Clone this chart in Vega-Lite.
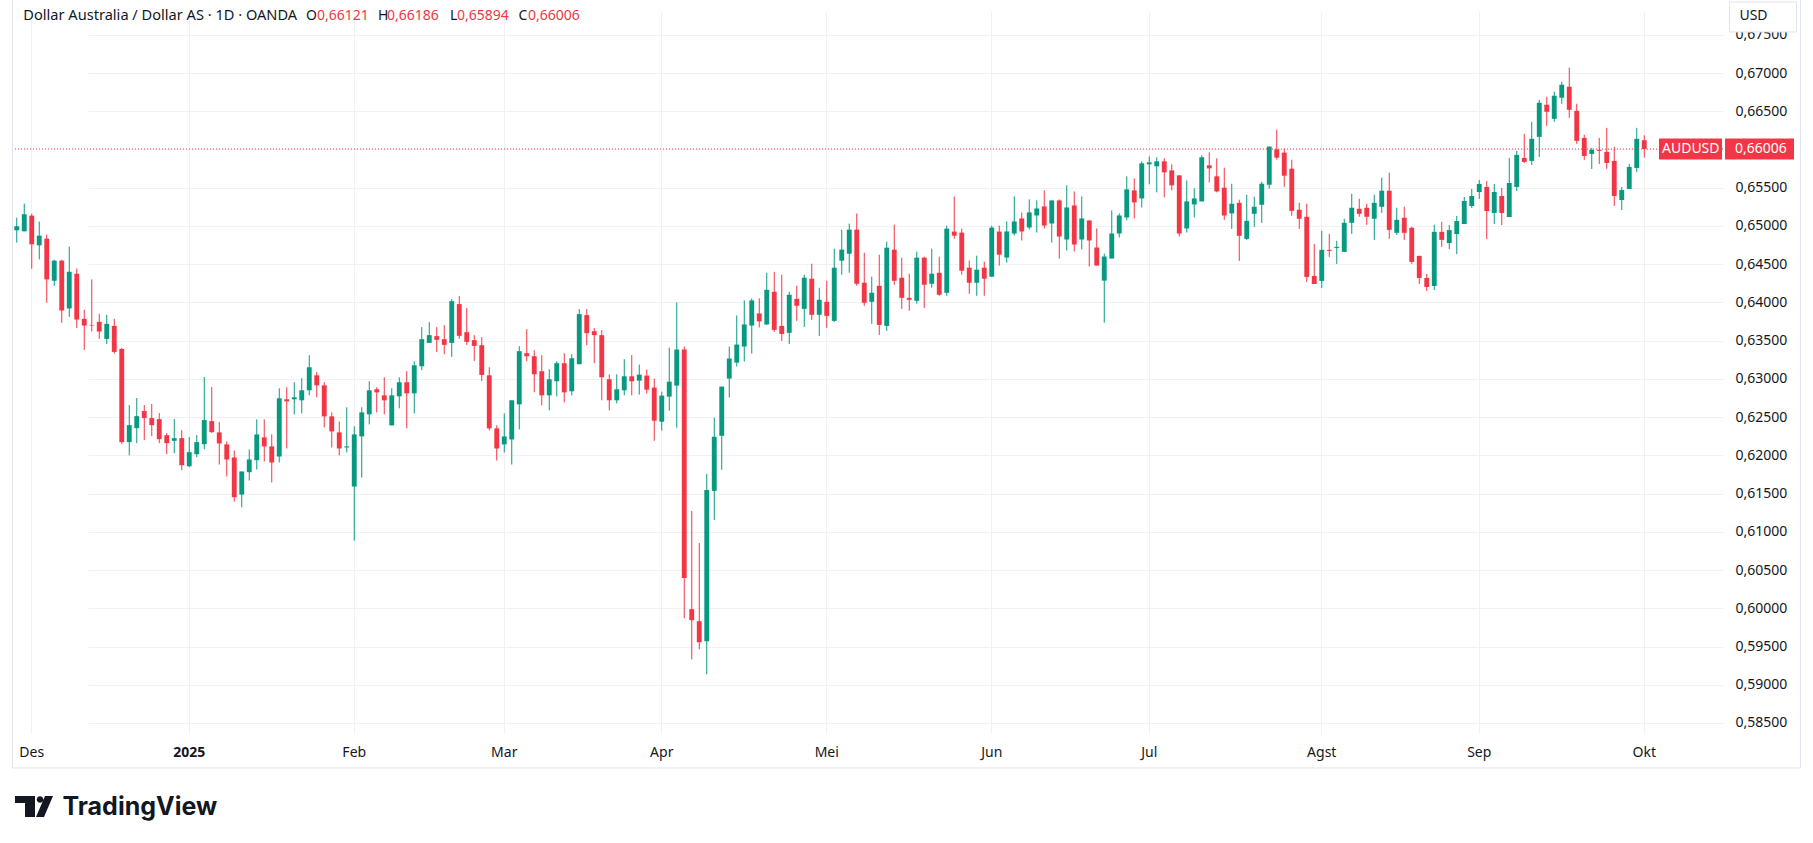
{
  "$schema": "https://vega.github.io/schema/vega-lite/v6.json",
  "width": 1710,
  "height": 721,
  "autosize": "none",
  "padding": {"left": 13, "top": 12, "right": 90, "bottom": 110},
  "background": "white",
  "config": {
    "locale": {"number": {"decimal": ",", "thousands": ".", "grouping": [3], "currency": ["", ""]}},
    "view": {"stroke": null},
    "font": "Noto Sans"
  },
  "datasets": {
    "last": [{"d": "2025-10-01", "o": 0.66121, "h": 0.66186, "l": 0.65894, "c": 0.66006, "sym": "AUDUSD"}],
    "ohlc": [
      {"d":"2024-11-28","o":0.64943,"h":0.65109,"l":0.64782,"c":0.64996},
      {"d":"2024-11-29","o":0.6493,"h":0.65293,"l":0.6493,"c":0.65153},
      {"d":"2024-12-02","o":0.65135,"h":0.65162,"l":0.64441,"c":0.6476},
      {"d":"2024-12-03","o":0.64747,"h":0.65057,"l":0.64563,"c":0.64873},
      {"d":"2024-12-04","o":0.64834,"h":0.64886,"l":0.63995,"c":0.64301},
      {"d":"2024-12-05","o":0.64283,"h":0.64559,"l":0.64218,"c":0.64546},
      {"d":"2024-12-06","o":0.64546,"h":0.64559,"l":0.63733,"c":0.63894},
      {"d":"2024-12-09","o":0.63921,"h":0.64729,"l":0.63811,"c":0.64401},
      {"d":"2024-12-10","o":0.64375,"h":0.64441,"l":0.63667,"c":0.63776},
      {"d":"2024-12-11","o":0.63785,"h":0.63903,"l":0.63379,"c":0.63698},
      {"d":"2024-12-12","o":0.63706,"h":0.64301,"l":0.63619,"c":0.63698},
      {"d":"2024-12-13","o":0.63746,"h":0.63851,"l":0.63523,"c":0.63619},
      {"d":"2024-12-16","o":0.63523,"h":0.63838,"l":0.63457,"c":0.6372},
      {"d":"2024-12-17","o":0.63693,"h":0.63785,"l":0.63331,"c":0.63353},
      {"d":"2024-12-18","o":0.63392,"h":0.63405,"l":0.6215,"c":0.62173},
      {"d":"2024-12-19","o":0.62173,"h":0.62658,"l":0.62,"c":0.62395},
      {"d":"2024-12-20","o":0.62356,"h":0.6275,"l":0.6216,"c":0.62513},
      {"d":"2024-12-23","o":0.62579,"h":0.62658,"l":0.62199,"c":0.62487},
      {"d":"2024-12-24","o":0.62487,"h":0.62671,"l":0.62251,"c":0.62395},
      {"d":"2024-12-26","o":0.62474,"h":0.62553,"l":0.6216,"c":0.62212},
      {"d":"2024-12-27","o":0.62264,"h":0.62291,"l":0.62015,"c":0.6216},
      {"d":"2024-12-30","o":0.6219,"h":0.62474,"l":0.62028,"c":0.62225},
      {"d":"2024-12-31","o":0.62225,"h":0.6233,"l":0.61806,"c":0.61871},
      {"d":"2025-01-02","o":0.61858,"h":0.62238,"l":0.61845,"c":0.62042},
      {"d":"2025-01-03","o":0.62015,"h":0.62264,"l":0.61976,"c":0.62173},
      {"d":"2025-01-06","o":0.62146,"h":0.63025,"l":0.62081,"c":0.62461},
      {"d":"2025-01-07","o":0.62448,"h":0.62894,"l":0.62291,"c":0.62304},
      {"d":"2025-01-08","o":0.623,"h":0.62436,"l":0.6188,"c":0.62156},
      {"d":"2025-01-09","o":0.62143,"h":0.62182,"l":0.61723,"c":0.61946},
      {"d":"2025-01-10","o":0.61972,"h":0.62064,"l":0.61395,"c":0.61452},
      {"d":"2025-01-13","o":0.61487,"h":0.61789,"l":0.61321,"c":0.61789},
      {"d":"2025-01-14","o":0.6178,"h":0.62077,"l":0.61671,"c":0.61946},
      {"d":"2025-01-15","o":0.61937,"h":0.6247,"l":0.61815,"c":0.62274},
      {"d":"2025-01-16","o":0.62235,"h":0.6247,"l":0.6192,"c":0.62117},
      {"d":"2025-01-17","o":0.62117,"h":0.62274,"l":0.61645,"c":0.61907},
      {"d":"2025-01-20","o":0.61985,"h":0.62877,"l":0.61907,"c":0.62746},
      {"d":"2025-01-21","o":0.62733,"h":0.6289,"l":0.6209,"c":0.62706},
      {"d":"2025-01-22","o":0.62733,"h":0.62956,"l":0.62536,"c":0.62759},
      {"d":"2025-01-23","o":0.6272,"h":0.63008,"l":0.62549,"c":0.62851},
      {"d":"2025-01-24","o":0.62851,"h":0.6331,"l":0.62785,"c":0.63152},
      {"d":"2025-01-27","o":0.63047,"h":0.63091,"l":0.62759,"c":0.62916},
      {"d":"2025-01-28","o":0.62916,"h":0.62956,"l":0.62366,"c":0.6251},
      {"d":"2025-01-29","o":0.6251,"h":0.62562,"l":0.62103,"c":0.62313},
      {"d":"2025-01-30","o":0.623,"h":0.62444,"l":0.61999,"c":0.6209},
      {"d":"2025-01-31","o":0.62103,"h":0.62628,"l":0.62038,"c":0.62117},
      {"d":"2025-02-03","o":0.61592,"h":0.62379,"l":0.60884,"c":0.62274},
      {"d":"2025-02-04","o":0.62248,"h":0.62628,"l":0.6171,"c":0.62562},
      {"d":"2025-02-05","o":0.62536,"h":0.62969,"l":0.62405,"c":0.62851},
      {"d":"2025-02-06","o":0.62864,"h":0.6289,"l":0.62562,"c":0.62824},
      {"d":"2025-02-07","o":0.62785,"h":0.63021,"l":0.62536,"c":0.6272},
      {"d":"2025-02-10","o":0.62392,"h":0.62877,"l":0.62392,"c":0.62785},
      {"d":"2025-02-11","o":0.62772,"h":0.63021,"l":0.62615,"c":0.62956},
      {"d":"2025-02-12","o":0.62956,"h":0.631,"l":0.62353,"c":0.62811},
      {"d":"2025-02-13","o":0.62811,"h":0.63231,"l":0.62549,"c":0.63178},
      {"d":"2025-02-14","o":0.63165,"h":0.63677,"l":0.63113,"c":0.63519},
      {"d":"2025-02-17","o":0.63471,"h":0.63742,"l":0.63471,"c":0.63572},
      {"d":"2025-02-18","o":0.63559,"h":0.63677,"l":0.63353,"c":0.63511},
      {"d":"2025-02-19","o":0.63519,"h":0.63703,"l":0.63323,"c":0.63445},
      {"d":"2025-02-20","o":0.63471,"h":0.64044,"l":0.63288,"c":0.64017},
      {"d":"2025-02-21","o":0.63978,"h":0.64083,"l":0.63524,"c":0.63563},
      {"d":"2025-02-24","o":0.63611,"h":0.63926,"l":0.63445,"c":0.63484},
      {"d":"2025-02-25","o":0.63506,"h":0.63572,"l":0.63235,"c":0.63432},
      {"d":"2025-02-26","o":0.63441,"h":0.63546,"l":0.62973,"c":0.63052},
      {"d":"2025-02-27","o":0.63047,"h":0.63152,"l":0.62326,"c":0.62353},
      {"d":"2025-02-28","o":0.62353,"h":0.62392,"l":0.61933,"c":0.6209},
      {"d":"2025-03-03","o":0.62143,"h":0.62549,"l":0.62038,"c":0.62248},
      {"d":"2025-03-04","o":0.62208,"h":0.6272,"l":0.6188,"c":0.6272},
      {"d":"2025-03-05","o":0.62667,"h":0.63428,"l":0.62339,"c":0.63362},
      {"d":"2025-03-06","o":0.63336,"h":0.6365,"l":0.63231,"c":0.63296},
      {"d":"2025-03-07","o":0.63296,"h":0.63375,"l":0.62824,"c":0.6306},
      {"d":"2025-03-10","o":0.631,"h":0.6331,"l":0.62654,"c":0.62785},
      {"d":"2025-03-11","o":0.62785,"h":0.63126,"l":0.62588,"c":0.62995},
      {"d":"2025-03-12","o":0.62969,"h":0.63231,"l":0.62772,"c":0.63205},
      {"d":"2025-03-13","o":0.63205,"h":0.63336,"l":0.62693,"c":0.62824},
      {"d":"2025-03-14","o":0.62838,"h":0.63323,"l":0.62785,"c":0.6327},
      {"d":"2025-03-17","o":0.63192,"h":0.63913,"l":0.63192,"c":0.63847},
      {"d":"2025-03-18","o":0.63834,"h":0.63913,"l":0.63441,"c":0.63598},
      {"d":"2025-03-19","o":0.63624,"h":0.63664,"l":0.63205,"c":0.63572},
      {"d":"2025-03-20","o":0.63572,"h":0.63637,"l":0.6272,"c":0.63021},
      {"d":"2025-03-21","o":0.62995,"h":0.6306,"l":0.62588,"c":0.6272},
      {"d":"2025-03-24","o":0.6272,"h":0.6306,"l":0.6268,"c":0.62864},
      {"d":"2025-03-25","o":0.62851,"h":0.63257,"l":0.62785,"c":0.63034},
      {"d":"2025-03-26","o":0.63034,"h":0.6331,"l":0.62785,"c":0.62969},
      {"d":"2025-03-27","o":0.62977,"h":0.63187,"l":0.62794,"c":0.63056},
      {"d":"2025-03-28","o":0.63043,"h":0.63122,"l":0.62807,"c":0.62859},
      {"d":"2025-03-31","o":0.62886,"h":0.63004,"l":0.62191,"c":0.62453},
      {"d":"2025-04-01","o":0.6244,"h":0.62833,"l":0.62322,"c":0.62781},
      {"d":"2025-04-02","o":0.62768,"h":0.63409,"l":0.62584,"c":0.62964},
      {"d":"2025-04-03","o":0.62912,"h":0.64,"l":0.62361,"c":0.63384},
      {"d":"2025-04-04","o":0.63384,"h":0.63423,"l":0.5987,"c":0.60395},
      {"d":"2025-04-07","o":0.59988,"h":0.61273,"l":0.59333,"c":0.59844},
      {"d":"2025-04-08","o":0.59831,"h":0.60854,"l":0.59464,"c":0.59556},
      {"d":"2025-04-09","o":0.59569,"h":0.61758,"l":0.59136,"c":0.61548},
      {"d":"2025-04-10","o":0.61535,"h":0.62492,"l":0.61155,"c":0.62243},
      {"d":"2025-04-11","o":0.62256,"h":0.62899,"l":0.61811,"c":0.62899},
      {"d":"2025-04-14","o":0.63004,"h":0.63423,"l":0.62755,"c":0.63266},
      {"d":"2025-04-15","o":0.63213,"h":0.6383,"l":0.63161,"c":0.63449},
      {"d":"2025-04-16","o":0.63423,"h":0.64026,"l":0.63227,"c":0.63712},
      {"d":"2025-04-17","o":0.63698,"h":0.64052,"l":0.63331,"c":0.64026},
      {"d":"2025-04-18","o":0.63856,"h":0.64052,"l":0.63672,"c":0.63751},
      {"d":"2025-04-21","o":0.63712,"h":0.64388,"l":0.63707,"c":0.64165},
      {"d":"2025-04-22","o":0.64139,"h":0.64401,"l":0.63615,"c":0.63641},
      {"d":"2025-04-23","o":0.63693,"h":0.64362,"l":0.63497,"c":0.63588},
      {"d":"2025-04-24","o":0.63602,"h":0.64139,"l":0.63457,"c":0.641},
      {"d":"2025-04-25","o":0.64047,"h":0.64218,"l":0.63759,"c":0.63956},
      {"d":"2025-04-28","o":0.63916,"h":0.64362,"l":0.6368,"c":0.64323},
      {"d":"2025-04-29","o":0.6431,"h":0.64506,"l":0.63772,"c":0.63838},
      {"d":"2025-04-30","o":0.63838,"h":0.64192,"l":0.63562,"c":0.64034},
      {"d":"2025-05-01","o":0.64008,"h":0.64283,"l":0.63667,"c":0.63824},
      {"d":"2025-05-02","o":0.63759,"h":0.64703,"l":0.63746,"c":0.64454},
      {"d":"2025-05-05","o":0.64546,"h":0.64952,"l":0.64362,"c":0.6469},
      {"d":"2025-05-06","o":0.64637,"h":0.65031,"l":0.64388,"c":0.64952},
      {"d":"2025-05-07","o":0.64952,"h":0.65162,"l":0.64218,"c":0.64244},
      {"d":"2025-05-08","o":0.64257,"h":0.6465,"l":0.63956,"c":0.63995},
      {"d":"2025-05-09","o":0.64008,"h":0.64336,"l":0.6372,"c":0.64126},
      {"d":"2025-05-12","o":0.64218,"h":0.64624,"l":0.63575,"c":0.63706},
      {"d":"2025-05-13","o":0.63693,"h":0.64795,"l":0.63628,"c":0.64716},
      {"d":"2025-05-14","o":0.6469,"h":0.65017,"l":0.64231,"c":0.64283},
      {"d":"2025-05-15","o":0.64323,"h":0.64585,"l":0.63916,"c":0.6406},
      {"d":"2025-05-16","o":0.6406,"h":0.64375,"l":0.6389,"c":0.64034},
      {"d":"2025-05-19","o":0.64021,"h":0.64664,"l":0.63982,"c":0.64585},
      {"d":"2025-05-20","o":0.64585,"h":0.64598,"l":0.63929,"c":0.64231},
      {"d":"2025-05-21","o":0.64244,"h":0.64703,"l":0.64192,"c":0.64375},
      {"d":"2025-05-22","o":0.64388,"h":0.64598,"l":0.64087,"c":0.641},
      {"d":"2025-05-23","o":0.64126,"h":0.65004,"l":0.64087,"c":0.64965},
      {"d":"2025-05-26","o":0.64926,"h":0.65385,"l":0.64834,"c":0.64873},
      {"d":"2025-05-27","o":0.64913,"h":0.64965,"l":0.64362,"c":0.64414},
      {"d":"2025-05-28","o":0.64454,"h":0.64546,"l":0.64113,"c":0.64257},
      {"d":"2025-05-29","o":0.64257,"h":0.64611,"l":0.64087,"c":0.64428},
      {"d":"2025-05-30","o":0.64454,"h":0.64532,"l":0.64087,"c":0.6431},
      {"d":"2025-06-02","o":0.64336,"h":0.65004,"l":0.64336,"c":0.64978},
      {"d":"2025-06-03","o":0.64926,"h":0.65004,"l":0.6448,"c":0.64624},
      {"d":"2025-06-04","o":0.64587,"h":0.65059,"l":0.64521,"c":0.64928},
      {"d":"2025-06-05","o":0.64901,"h":0.65386,"l":0.64875,"c":0.65059},
      {"d":"2025-06-06","o":0.65098,"h":0.65177,"l":0.6481,"c":0.64928},
      {"d":"2025-06-09","o":0.6498,"h":0.65347,"l":0.64954,"c":0.65177},
      {"d":"2025-06-10","o":0.65137,"h":0.65334,"l":0.64914,"c":0.65229},
      {"d":"2025-06-11","o":0.65255,"h":0.65465,"l":0.64967,"c":0.65006},
      {"d":"2025-06-12","o":0.65032,"h":0.65334,"l":0.64783,"c":0.65334},
      {"d":"2025-06-13","o":0.65334,"h":0.65347,"l":0.64574,"c":0.64862},
      {"d":"2025-06-16","o":0.64823,"h":0.65531,"l":0.64678,"c":0.65242},
      {"d":"2025-06-17","o":0.65268,"h":0.65452,"l":0.64665,"c":0.64757},
      {"d":"2025-06-18","o":0.64823,"h":0.65386,"l":0.64692,"c":0.65098},
      {"d":"2025-06-19","o":0.65072,"h":0.65072,"l":0.64469,"c":0.6481},
      {"d":"2025-06-20","o":0.64718,"h":0.64967,"l":0.64482,"c":0.64482},
      {"d":"2025-06-23","o":0.64285,"h":0.64639,"l":0.63735,"c":0.646},
      {"d":"2025-06-24","o":0.64574,"h":0.65203,"l":0.64574,"c":0.64901},
      {"d":"2025-06-25","o":0.64901,"h":0.65164,"l":0.64849,"c":0.65137},
      {"d":"2025-06-26","o":0.65111,"h":0.65649,"l":0.65072,"c":0.65478},
      {"d":"2025-06-27","o":0.65465,"h":0.65622,"l":0.65098,"c":0.65308},
      {"d":"2025-06-30","o":0.6536,"h":0.65845,"l":0.65242,"c":0.65819},
      {"d":"2025-07-01","o":0.65806,"h":0.65911,"l":0.65544,"c":0.65832},
      {"d":"2025-07-02","o":0.6578,"h":0.65898,"l":0.65439,"c":0.65845},
      {"d":"2025-07-03","o":0.65845,"h":0.65885,"l":0.65373,"c":0.65701},
      {"d":"2025-07-04","o":0.65727,"h":0.65806,"l":0.65465,"c":0.65531},
      {"d":"2025-07-07","o":0.65662,"h":0.65662,"l":0.64862,"c":0.64901},
      {"d":"2025-07-08","o":0.64967,"h":0.65596,"l":0.64914,"c":0.65321},
      {"d":"2025-07-09","o":0.65281,"h":0.65491,"l":0.65111,"c":0.6536},
      {"d":"2025-07-10","o":0.65321,"h":0.65924,"l":0.65321,"c":0.65898},
      {"d":"2025-07-11","o":0.65793,"h":0.65963,"l":0.6557,"c":0.65753},
      {"d":"2025-07-14","o":0.65649,"h":0.65885,"l":0.65439,"c":0.65452},
      {"d":"2025-07-15","o":0.655,"h":0.65762,"l":0.6508,"c":0.65137},
      {"d":"2025-07-16","o":0.65164,"h":0.65552,"l":0.64962,"c":0.6529},
      {"d":"2025-07-17","o":0.65303,"h":0.65343,"l":0.64543,"c":0.64871},
      {"d":"2025-07-18","o":0.64831,"h":0.65408,"l":0.64818,"c":0.65067},
      {"d":"2025-07-21","o":0.65159,"h":0.65382,"l":0.64989,"c":0.65251},
      {"d":"2025-07-22","o":0.65277,"h":0.65579,"l":0.65041,"c":0.65552},
      {"d":"2025-07-23","o":0.65539,"h":0.66038,"l":0.65487,"c":0.66038},
      {"d":"2025-07-24","o":0.66,"h":0.6626,"l":0.65867,"c":0.65893},
      {"d":"2025-07-25","o":0.65959,"h":0.66011,"l":0.65513,"c":0.65657},
      {"d":"2025-07-28","o":0.65749,"h":0.65867,"l":0.65133,"c":0.65198},
      {"d":"2025-07-29","o":0.65212,"h":0.65303,"l":0.64962,"c":0.65094},
      {"d":"2025-07-30","o":0.6512,"h":0.6529,"l":0.64268,"c":0.64333},
      {"d":"2025-07-31","o":0.64346,"h":0.64766,"l":0.64241,"c":0.64241},
      {"d":"2025-08-01","o":0.64281,"h":0.64936,"l":0.64189,"c":0.64687},
      {"d":"2025-08-04","o":0.64687,"h":0.64897,"l":0.64595,"c":0.64674},
      {"d":"2025-08-05","o":0.64713,"h":0.64805,"l":0.64504,"c":0.64727},
      {"d":"2025-08-06","o":0.64661,"h":0.65094,"l":0.64661,"c":0.65041},
      {"d":"2025-08-07","o":0.65041,"h":0.65421,"l":0.64897,"c":0.65238},
      {"d":"2025-08-08","o":0.65225,"h":0.65356,"l":0.6512,"c":0.65159},
      {"d":"2025-08-11","o":0.65238,"h":0.6529,"l":0.65015,"c":0.6512},
      {"d":"2025-08-12","o":0.65094,"h":0.65408,"l":0.64818,"c":0.65303},
      {"d":"2025-08-13","o":0.65251,"h":0.65631,"l":0.65172,"c":0.65461},
      {"d":"2025-08-14","o":0.65461,"h":0.65697,"l":0.64831,"c":0.64949},
      {"d":"2025-08-15","o":0.6491,"h":0.65238,"l":0.64884,"c":0.6508},
      {"d":"2025-08-18","o":0.65107,"h":0.65251,"l":0.64818,"c":0.6491},
      {"d":"2025-08-19","o":0.64976,"h":0.64989,"l":0.64504,"c":0.6453},
      {"d":"2025-08-20","o":0.64609,"h":0.64609,"l":0.64241,"c":0.6432},
      {"d":"2025-08-21","o":0.6432,"h":0.64373,"l":0.6415,"c":0.64202},
      {"d":"2025-08-22","o":0.64215,"h":0.65015,"l":0.64163,"c":0.64923},
      {"d":"2025-08-25","o":0.64923,"h":0.65054,"l":0.64727,"c":0.64818},
      {"d":"2025-08-26","o":0.64776,"h":0.65012,"l":0.64697,"c":0.64946},
      {"d":"2025-08-27","o":0.64894,"h":0.6513,"l":0.64631,"c":0.65064},
      {"d":"2025-08-28","o":0.65025,"h":0.65379,"l":0.65025,"c":0.65326},
      {"d":"2025-08-29","o":0.65261,"h":0.65484,"l":0.65235,"c":0.65392},
      {"d":"2025-09-01","o":0.65444,"h":0.65602,"l":0.65353,"c":0.65549},
      {"d":"2025-09-02","o":0.6551,"h":0.65588,"l":0.64828,"c":0.65195},
      {"d":"2025-09-03","o":0.65169,"h":0.65549,"l":0.65025,"c":0.65444},
      {"d":"2025-09-04","o":0.65392,"h":0.65497,"l":0.65012,"c":0.65169},
      {"d":"2025-09-05","o":0.65117,"h":0.6589,"l":0.65117,"c":0.65562},
      {"d":"2025-09-08","o":0.6551,"h":0.65982,"l":0.65457,"c":0.65929},
      {"d":"2025-09-09","o":0.6589,"h":0.66205,"l":0.65824,"c":0.65838},
      {"d":"2025-09-10","o":0.65851,"h":0.66362,"l":0.65798,"c":0.66139},
      {"d":"2025-09-11","o":0.66165,"h":0.6665,"l":0.65903,"c":0.66611},
      {"d":"2025-09-12","o":0.66585,"h":0.6669,"l":0.6631,"c":0.66493},
      {"d":"2025-09-15","o":0.66401,"h":0.66755,"l":0.66362,"c":0.66703},
      {"d":"2025-09-16","o":0.66677,"h":0.66886,"l":0.66598,"c":0.66847},
      {"d":"2025-09-17","o":0.66821,"h":0.6707,"l":0.66414,"c":0.66519},
      {"d":"2025-09-18","o":0.66506,"h":0.66598,"l":0.66074,"c":0.66113},
      {"d":"2025-09-19","o":0.66152,"h":0.66192,"l":0.65864,"c":0.65916},
      {"d":"2025-09-22","o":0.65942,"h":0.66021,"l":0.65746,"c":0.65995},
      {"d":"2025-09-23","o":0.65995,"h":0.66152,"l":0.65811,"c":0.65982},
      {"d":"2025-09-24","o":0.65969,"h":0.66283,"l":0.65746,"c":0.65824},
      {"d":"2025-09-25","o":0.65851,"h":0.66034,"l":0.65261,"c":0.65392},
      {"d":"2025-09-26","o":0.65339,"h":0.6551,"l":0.65208,"c":0.6547},
      {"d":"2025-09-29","o":0.65484,"h":0.65811,"l":0.65484,"c":0.65772},
      {"d":"2025-09-30","o":0.65759,"h":0.66283,"l":0.65706,"c":0.66139},
      {"d":"2025-10-01","o":0.66121,"h":0.66186,"l":0.65894,"c":0.66006}
    ]
  },
  "layer": [
    {
      "data": {"name": "ohlc"},
      "mark": {"type": "rule", "strokeWidth": 1},
      "encoding": {
        "x": {
          "field": "d", "type": "ordinal",
          "scale": {"type": "band", "paddingInner": 0, "paddingOuter": 0, "range": [0, 1635]},
          "axis": {
            "values": ["2024-12-02","2025-01-02","2025-02-03","2025-03-03","2025-04-01","2025-05-01","2025-06-02","2025-07-01","2025-08-01","2025-09-01","2025-10-01"],
            "labelExpr": "['Des','2025','Feb','Mar','Apr','Mei','Jun','Jul','Agst','Sep','Okt'][indexof(['2024-12-02','2025-01-02','2025-02-03','2025-03-03','2025-04-01','2025-05-01','2025-06-02','2025-07-01','2025-08-01','2025-09-01','2025-10-01'], datum.value)]",
            "labelAngle": 0, "labelPadding": 12, "labelFontSize": 14, "labelColor": "#131722", "labelFont": "Noto Sans",
            "labelFontWeight": {"condition": {"test": "datum.value === '2025-01-02'", "value": "bold"}, "value": "normal"},
            "ticks": false, "domain": false, "grid": true, "gridColor": "#EFF1F4",
            "title": "TradingView", "titleX": 49, "titleY": 73, "titleAlign": "left", "titleAnchor": "start", "titleBaseline": "middle",
            "titleFont": "Inter", "titleFontSize": 25, "titleFontWeight": 700, "titleColor": "#131722"
          }
        },
        "y": {
          "field": "l", "type": "quantitative",
          "scale": {"domain": [0.58369, 0.67798], "nice": false, "zero": false},
          "axis": {
            "orient": "right",
            "values": [0.585,0.59,0.595,0.6,0.605,0.61,0.615,0.62,0.625,0.63,0.635,0.64,0.645,0.65,0.655,0.66,0.665,0.67,0.675],
            "format": ".5f", "labelPadding": 12, "labelFontSize": 14, "labelColor": "#131722", "labelFont": "Noto Sans", "labelAlign": "left",
            "ticks": false, "domain": false, "grid": true, "gridColor": "#EFF1F4", "title": null
          }
        },
        "y2": {"field": "h"},
        "color": {"condition": {"test": "datum.c >= datum.o", "value": "#089981"}, "value": "#F23645"}
      }
    },
    {
      "data": {"name": "ohlc"},
      "mark": {"type": "bar", "width": {"band": 0.65}},
      "encoding": {
        "x": {"field": "d", "type": "ordinal"},
        "y": {"field": "o", "type": "quantitative"},
        "y2": {"field": "c"},
        "color": {"condition": {"test": "datum.c >= datum.o", "value": "#089981"}, "value": "#F23645"}
      }
    },
    {
      "data": {"name": "last"},
      "mark": {"type": "rule", "color": "#F23645", "strokeWidth": 1, "strokeDash": [1, 2]},
      "encoding": {"y": {"field": "c", "type": "quantitative"}}
    },
    {
      "data": {"name": "last"},
      "mark": {"type": "point", "shape": "M-1,-0.333H1V0.333H-1Z", "size": 3969, "filled": true, "opacity": 1, "color": "#F23645", "xOffset": 46.25},
      "encoding": {"x": {"field": "d", "type": "ordinal"}, "y": {"field": "c", "type": "quantitative"}}
    },
    {
      "data": {"name": "last"},
      "mark": {"type": "point", "shape": "M-1,-0.304H1V0.304H-1Z", "size": 4761, "filled": true, "opacity": 1, "color": "#F23645", "xOffset": 115.25},
      "encoding": {"x": {"field": "d", "type": "ordinal"}, "y": {"field": "c", "type": "quantitative"}}
    },
    {
      "data": {"name": "last"},
      "mark": {"type": "text", "color": "white", "fontSize": 14, "align": "center", "baseline": "middle", "xOffset": 46.5},
      "encoding": {"x": {"field": "d", "type": "ordinal"}, "y": {"field": "c", "type": "quantitative"}, "text": {"field": "sym"}}
    },
    {
      "data": {"name": "last"},
      "mark": {"type": "text", "color": "white", "fontSize": 14, "align": "left", "baseline": "middle", "xOffset": 90.75},
      "encoding": {"x": {"field": "d", "type": "ordinal"}, "y": {"field": "c", "type": "quantitative"}, "text": {"field": "c", "format": ".5f"}}
    },
    {
      "data": {"name": "last"},
      "mark": {"type": "point", "shape": "M-1,-0.448H1V0.448H-1Z", "size": 4489, "filled": true, "opacity": 1, "fill": "white", "stroke": "#E0E3EB", "strokeWidth": 1, "xOffset": 118.75},
      "encoding": {"x": {"field": "d", "type": "ordinal"}, "y": {"datum": 0.67733, "type": "quantitative"}}
    },
    {
      "data": {"name": "last"},
      "mark": {"type": "text", "color": "#131722", "fontSize": 14, "align": "center", "baseline": "middle", "xOffset": 109.25, "text": "USD"},
      "encoding": {"x": {"field": "d", "type": "ordinal"}, "y": {"datum": 0.67752, "type": "quantitative"}}
    },
    {
      "data": {"name": "last"},
      "mark": {"type": "text", "color": "#131722", "fontSize": 14.6, "align": "left", "baseline": "middle", "xOffset": 6.55, "text": "Dollar Australia / Dollar AS · 1D · OANDA"},
      "encoding": {"x": {"datum": "2024-11-28", "type": "ordinal"}, "y": {"datum": 0.67752, "type": "quantitative"}}
    },
    {
      "data": {"name": "last"},
      "mark": {"type": "text", "color": "#131722", "fontSize": 14, "align": "left", "baseline": "middle", "xOffset": 289.25, "text": "O"},
      "encoding": {"x": {"datum": "2024-11-28", "type": "ordinal"}, "y": {"datum": 0.67752, "type": "quantitative"}}
    },
    {
      "data": {"name": "last"},
      "mark": {"type": "text", "color": "#F23645", "fontSize": 14, "align": "left", "baseline": "middle", "xOffset": 300.25},
      "encoding": {"x": {"datum": "2024-11-28", "type": "ordinal"}, "y": {"datum": 0.67752, "type": "quantitative"}, "text": {"field": "o", "format": ".5f"}}
    },
    {
      "data": {"name": "last"},
      "mark": {"type": "text", "color": "#131722", "fontSize": 14, "align": "left", "baseline": "middle", "xOffset": 361.25, "text": "H"},
      "encoding": {"x": {"datum": "2024-11-28", "type": "ordinal"}, "y": {"datum": 0.67752, "type": "quantitative"}}
    },
    {
      "data": {"name": "last"},
      "mark": {"type": "text", "color": "#F23645", "fontSize": 14, "align": "left", "baseline": "middle", "xOffset": 370.25},
      "encoding": {"x": {"datum": "2024-11-28", "type": "ordinal"}, "y": {"datum": 0.67752, "type": "quantitative"}, "text": {"field": "h", "format": ".5f"}}
    },
    {
      "data": {"name": "last"},
      "mark": {"type": "text", "color": "#131722", "fontSize": 14, "align": "left", "baseline": "middle", "xOffset": 433.25, "text": "L"},
      "encoding": {"x": {"datum": "2024-11-28", "type": "ordinal"}, "y": {"datum": 0.67752, "type": "quantitative"}}
    },
    {
      "data": {"name": "last"},
      "mark": {"type": "text", "color": "#F23645", "fontSize": 14, "align": "left", "baseline": "middle", "xOffset": 440.25},
      "encoding": {"x": {"datum": "2024-11-28", "type": "ordinal"}, "y": {"datum": 0.67752, "type": "quantitative"}, "text": {"field": "l", "format": ".5f"}}
    },
    {
      "data": {"name": "last"},
      "mark": {"type": "text", "color": "#131722", "fontSize": 14, "align": "left", "baseline": "middle", "xOffset": 501.85, "text": "C"},
      "encoding": {"x": {"datum": "2024-11-28", "type": "ordinal"}, "y": {"datum": 0.67752, "type": "quantitative"}}
    },
    {
      "data": {"name": "last"},
      "mark": {"type": "text", "color": "#F23645", "fontSize": 14, "align": "left", "baseline": "middle", "xOffset": 511.25},
      "encoding": {"x": {"datum": "2024-11-28", "type": "ordinal"}, "y": {"datum": 0.67752, "type": "quantitative"}, "text": {"field": "c", "format": ".5f"}}
    },
    {
      "data": {"name": "last"},
      "mark": {"type": "point", "shape": "M-0.925,-0.525H0.075V0.525H-0.425V-0.175H-0.925Z M0.16,-0.35A0.165,0.165,0,1,0,0.49,-0.35A0.165,0.165,0,1,0,0.16,-0.35Z M0.575,-0.525H0.975L0.525,0.525H0.125Z", "size": 1600, "filled": true, "opacity": 1, "color": "#131722", "xOffset": 16.75},
      "encoding": {"x": {"datum": "2024-11-28", "type": "ordinal"}, "y": {"datum": 0.57408, "type": "quantitative"}}
    },
    {
      "data": {"name": "last"},
      "mark": {"type": "point", "shape": "M-1,-0.4301H1V0.4301H-1Z", "size": 3196944, "filled": false, "opacity": 1, "stroke": "#E0E3EB", "strokeWidth": 1, "xOffset": 889.75},
      "encoding": {"x": {"datum": "2024-11-28", "type": "ordinal"}, "y": {"datum": 0.6294, "type": "quantitative"}}
    }
  ]
}
